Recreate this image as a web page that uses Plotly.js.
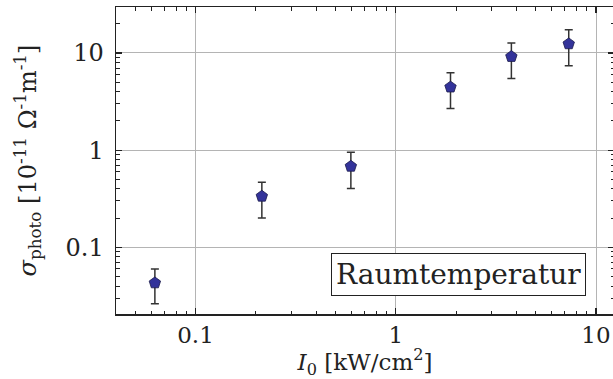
<!DOCTYPE html>
<html>
<head>
<meta charset="utf-8">
<script src="https://cdn.plot.ly/plotly-3.0.1.min.js"></script>
<style>html,body{margin:0;padding:0;overflow:hidden;background:#fff;}</style>
</head>
<body>
<div id="chart" style="width:620px;height:379px;"></div>
<script>
// Data
const intensity = [0.0627, 0.2145, 0.597, 1.877, 3.78, 7.31];       // I0 [kW/cm^2]
const sigma     = [0.043, 0.335, 0.681, 4.45, 9.18, 12.4];          // sigma_photo [1e-11 Ohm^-1 m^-1]
const errUpper  = [0.060, 0.467, 0.949, 6.24, 12.7, 17.3];
const errLower  = [0.0262, 0.2007, 0.404, 2.68, 5.45, 7.37];
const majorTicks = [0.1, 1, 10];
const majorTickText = ['0.1', '1', '10'];
const annotationText = 'Raumtemperatur';

const plusErr = sigma.map((v, i) => errUpper[i] - v);
const minusErr = sigma.map((v, i) => v - errLower[i]);

const minorVals = [];
for (let e = -3; e <= 2; e++) {
  for (let m = 2; m <= 9; m++) minorVals.push(m * Math.pow(10, e));
}

const fontFam = 'DejaVu Serif, serif';
const axisCommon = {
  type: 'log',
  showline: true, linecolor: '#222', linewidth: 1.5, mirror: 'allticks',
  ticks: 'inside', ticklen: 6, tickwidth: 1.2, tickcolor: '#222',
  showgrid: true, gridcolor: '#b4b4b4', gridwidth: 1,
  zeroline: false,
  tickmode: 'array', tickvals: majorTicks, ticktext: majorTickText,
  tickfont: {family: fontFam, size: 24, color: '#222'},
  minor: {tickmode: 'array', tickvals: minorVals, ticks: 'inside', ticklen: 3.5, tickwidth: 1, tickcolor: '#222', showgrid: false}
};

const trace = {
  x: intensity, y: sigma, type: 'scatter', mode: 'markers',
  marker: {symbol: 'pentagon', size: 12, color: '#33339a', line: {color: '#1a1a4a', width: 0.8}},
  error_y: {type: 'data', symmetric: false, array: plusErr, arrayminus: minusErr,
            color: '#333', thickness: 1.5, width: 4},
  showlegend: false
};

const layout = {
  width: 620, height: 379,
  margin: {l: 116, r: 4, t: 7, b: 65},
  paper_bgcolor: '#fff', plot_bgcolor: '#fff',
  xaxis: Object.assign({}, axisCommon, {
    range: [Math.log10(0.0401), Math.log10(12.3)],
    ticklabelstandoff: 0,
    tickfont: {family: fontFam, size: 23, color: '#222'},
    title: {text: '<i>I</i><sub>0</sub> [kW/cm<sup>2</sup>]', font: {family: fontFam, size: 23, color: '#222'}},
    automargin: false
  }),
  yaxis: Object.assign({}, axisCommon, {
    range: [-1.686, 1.473],
    ticklabelstandoff: 6,
    automargin: true,
    title: {text: '<i>σ</i><sub>photo</sub> [10<sup>-11</sup> Ω<sup>-1</sup>m<sup>-1</sup>]', font: {family: fontFam, size: 24, color: '#222'}, standoff: 22}
  }),
  annotations: [{
    xref: 'paper', yref: 'paper', x: 0.944, y: 0.06, xanchor: 'right', yanchor: 'bottom',
    text: annotationText, showarrow: false,
    font: {family: fontFam, size: 28, color: '#222'},
    bordercolor: '#222', borderwidth: 1, borderpad: 4, bgcolor: '#fff'
  }]
};

Plotly.newPlot('chart', [trace], layout, {displayModeBar: false, staticPlot: true});
</script>
</body>
</html>
